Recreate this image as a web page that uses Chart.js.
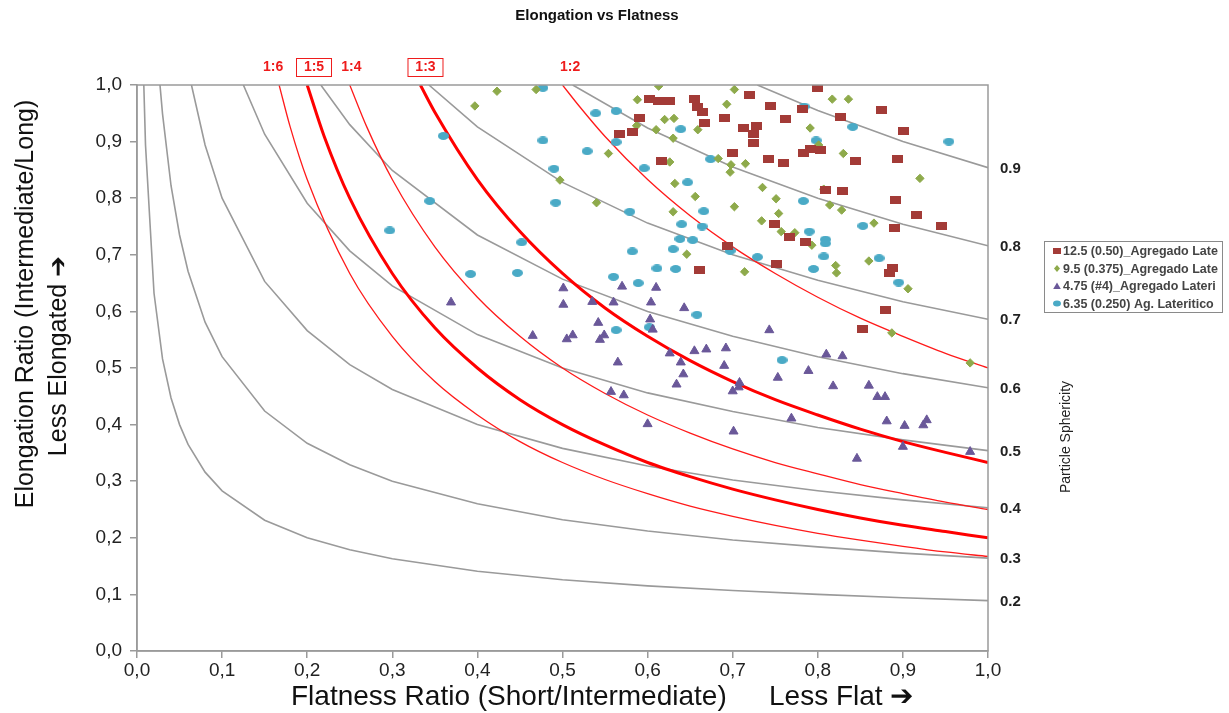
<!DOCTYPE html>
<html>
<head>
<meta charset="utf-8">
<title>Elongation vs Flatness</title>
<script src="https://cdn.jsdelivr.net/npm/chart.js@4.4.1/dist/chart.umd.min.js"></script>
<style>
  body { margin: 0; background: #fff; }
  canvas { display: block; }
</style>
</head>
<body>
<canvas id="zingg" width="1229" height="713"></canvas>
<script>
"use strict";

// ---- axis tick labels ----
var xTickLabels = ['0,0', '0,1', '0,2', '0,3', '0,4', '0,5', '0,6', '0,7', '0,8', '0,9', '1,0'];
var yTickLabels = ['0,0', '0,1', '0,2', '0,3', '0,4', '0,5', '0,6', '0,7', '0,8', '0,9', '1,0'];

// ---- sphericity curves (grey), [flatness, elongation] ----
var sph20 = [[0.008, 1], [0.01, 0.894], [0.02, 0.632], [0.03, 0.516], [0.04, 0.447], [0.05, 0.4], [0.06, 0.365], [0.08, 0.316], [0.1, 0.283], [0.15, 0.231], [0.2, 0.2], [0.25, 0.179], [0.3, 0.163], [0.4, 0.141], [0.5, 0.126], [0.6, 0.115], [0.7, 0.107], [0.8, 0.1], [0.9, 0.094], [1, 0.089]];
var sph30 = [[0.027, 1], [0.03, 0.949], [0.04, 0.822], [0.05, 0.735], [0.06, 0.671], [0.08, 0.581], [0.1, 0.52], [0.15, 0.424], [0.2, 0.367], [0.25, 0.329], [0.3, 0.3], [0.4, 0.26], [0.5, 0.232], [0.6, 0.212], [0.7, 0.196], [0.8, 0.184], [0.9, 0.173], [1, 0.164]];
var sph40 = [[0.064, 1], [0.08, 0.894], [0.1, 0.8], [0.15, 0.653], [0.2, 0.566], [0.25, 0.506], [0.3, 0.462], [0.4, 0.4], [0.5, 0.358], [0.6, 0.327], [0.7, 0.302], [0.8, 0.283], [0.9, 0.267], [1, 0.253]];
var sph50 = [[0.125, 1], [0.15, 0.913], [0.2, 0.791], [0.25, 0.707], [0.3, 0.645], [0.4, 0.559], [0.5, 0.5], [0.6, 0.456], [0.7, 0.423], [0.8, 0.395], [0.9, 0.373], [1, 0.354]];
var sph60 = [[0.216, 1], [0.25, 0.93], [0.3, 0.849], [0.4, 0.735], [0.5, 0.657], [0.6, 0.6], [0.7, 0.556], [0.8, 0.52], [0.9, 0.49], [1, 0.465]];
var sph70 = [[0.343, 1], [0.4, 0.926], [0.5, 0.828], [0.6, 0.756], [0.7, 0.7], [0.8, 0.655], [0.9, 0.617], [1, 0.586]];
var sph80 = [[0.512, 1], [0.6, 0.924], [0.7, 0.855], [0.8, 0.8], [0.9, 0.754], [1, 0.716]];
var sph90 = [[0.729, 1], [0.8, 0.955], [0.9, 0.9], [1, 0.854]];
var sphCurves = [sph20, sph30, sph40, sph50, sph60, sph70, sph80, sph90];
var sphLabels = ['0.2', '0.3', '0.4', '0.5', '0.6', '0.7', '0.8', '0.9'];

// ---- S:L ratio curves (red) ----
var ratio12 = [[0.5, 1], [0.52, 0.962], [0.55, 0.909], [0.6, 0.833], [0.65, 0.769], [0.7, 0.714], [0.75, 0.667], [0.8, 0.625], [0.85, 0.588], [0.9, 0.556], [0.95, 0.526], [1, 0.5]];
var ratio13 = [[0.333, 1], [0.35, 0.952], [0.4, 0.833], [0.45, 0.741], [0.5, 0.667], [0.55, 0.606], [0.6, 0.556], [0.65, 0.513], [0.7, 0.476], [0.75, 0.444], [0.8, 0.417], [0.85, 0.392], [0.9, 0.37], [0.95, 0.351], [1, 0.333]];
var ratio14 = [[0.25, 1], [0.27, 0.926], [0.3, 0.833], [0.35, 0.714], [0.4, 0.625], [0.45, 0.556], [0.5, 0.5], [0.55, 0.455], [0.6, 0.417], [0.65, 0.385], [0.7, 0.357], [0.75, 0.333], [0.8, 0.313], [0.85, 0.294], [0.9, 0.278], [0.95, 0.263], [1, 0.25]];
var ratio15 = [[0.2, 1], [0.22, 0.909], [0.25, 0.8], [0.3, 0.667], [0.35, 0.571], [0.4, 0.5], [0.45, 0.444], [0.5, 0.4], [0.55, 0.364], [0.6, 0.333], [0.65, 0.308], [0.7, 0.286], [0.75, 0.267], [0.8, 0.25], [0.85, 0.235], [0.9, 0.222], [0.95, 0.211], [1, 0.2]];
var ratio16 = [[0.167, 1], [0.18, 0.926], [0.2, 0.833], [0.25, 0.667], [0.3, 0.556], [0.35, 0.476], [0.4, 0.417], [0.45, 0.37], [0.5, 0.333], [0.55, 0.303], [0.6, 0.278], [0.65, 0.256], [0.7, 0.238], [0.75, 0.222], [0.8, 0.208], [0.85, 0.196], [0.9, 0.185], [0.95, 0.175], [1, 0.167]];
var ratioCurves = [ratio16, ratio15, ratio14, ratio13, ratio12];
var ratioLabels = ['1:6', '1:5', '1:4', '1:3', '1:2'];
var ratioLabelX = [0.16, 0.208, 0.252, 0.339, 0.509];
var ratioBold = [false, true, false, true, false];

// ---- measured particles ----
var seriesNames = ['12.5 (0.50)_Agregado Late', '9.5 (0.375)_Agregado Late', '4.75 (#4)_Agregado Lateri', '6.35 (0.250) Ag. Lateritico'];

var pass125 = [[0.800, 0.995], [0.655, 0.976], [0.659, 0.962], [0.664, 0.952], [0.602, 0.975], [0.613, 0.972], [0.626, 0.971], [0.720, 0.983], [0.745, 0.963], [0.690, 0.941], [0.667, 0.932], [0.590, 0.941], [0.567, 0.913], [0.582, 0.917], [0.616, 0.866], [0.782, 0.958], [0.827, 0.944], [0.875, 0.956], [0.762, 0.940], [0.713, 0.924], [0.728, 0.928], [0.724, 0.913], [0.725, 0.898], [0.901, 0.919], [0.700, 0.879], [0.742, 0.870], [0.760, 0.863], [0.783, 0.880], [0.791, 0.887], [0.803, 0.885], [0.844, 0.865], [0.894, 0.869], [0.809, 0.815], [0.829, 0.813], [0.891, 0.796], [0.916, 0.770], [0.945, 0.751], [0.890, 0.747], [0.749, 0.754], [0.767, 0.732], [0.785, 0.723], [0.694, 0.716], [0.751, 0.684], [0.661, 0.674], [0.888, 0.676], [0.884, 0.668], [0.879, 0.602], [0.853, 0.569]];

var pass95 = [[0.423, 0.989], [0.469, 0.992], [0.397, 0.963], [0.613, 0.998], [0.588, 0.974], [0.620, 0.939], [0.631, 0.941], [0.587, 0.928], [0.610, 0.921], [0.630, 0.906], [0.659, 0.921], [0.554, 0.879], [0.626, 0.864], [0.497, 0.832], [0.540, 0.792], [0.632, 0.826], [0.656, 0.803], [0.630, 0.776], [0.646, 0.701], [0.702, 0.992], [0.693, 0.966], [0.817, 0.975], [0.836, 0.975], [0.791, 0.924], [0.801, 0.894], [0.830, 0.879], [0.683, 0.870], [0.698, 0.859], [0.715, 0.861], [0.697, 0.846], [0.920, 0.835], [0.735, 0.819], [0.807, 0.816], [0.751, 0.799], [0.702, 0.785], [0.814, 0.788], [0.828, 0.779], [0.754, 0.773], [0.734, 0.760], [0.866, 0.756], [0.757, 0.741], [0.773, 0.739], [0.793, 0.717], [0.821, 0.681], [0.860, 0.689], [0.714, 0.670], [0.822, 0.668], [0.906, 0.640], [0.887, 0.562], [0.979, 0.509]];

var pass475 = [[0.369, 0.616], [0.501, 0.641], [0.501, 0.612], [0.535, 0.617], [0.560, 0.616], [0.570, 0.644], [0.610, 0.642], [0.604, 0.616], [0.643, 0.606], [0.542, 0.580], [0.603, 0.586], [0.606, 0.568], [0.465, 0.557], [0.505, 0.551], [0.512, 0.558], [0.549, 0.558], [0.544, 0.550], [0.626, 0.526], [0.655, 0.530], [0.639, 0.510], [0.565, 0.510], [0.642, 0.489], [0.634, 0.471], [0.557, 0.458], [0.572, 0.452], [0.600, 0.401], [0.743, 0.567], [0.669, 0.533], [0.692, 0.535], [0.690, 0.504], [0.810, 0.524], [0.829, 0.521], [0.789, 0.495], [0.753, 0.483], [0.708, 0.474], [0.707, 0.466], [0.700, 0.459], [0.818, 0.468], [0.860, 0.469], [0.870, 0.449], [0.879, 0.449], [0.769, 0.411], [0.881, 0.406], [0.902, 0.398], [0.928, 0.408], [0.924, 0.399], [0.701, 0.388], [0.900, 0.361], [0.979, 0.352], [0.846, 0.340]];

var pass635 = [[0.477, 0.995], [0.360, 0.910], [0.477, 0.902], [0.539, 0.950], [0.563, 0.954], [0.639, 0.922], [0.563, 0.899], [0.529, 0.883], [0.596, 0.853], [0.490, 0.852], [0.647, 0.828], [0.344, 0.795], [0.297, 0.743], [0.492, 0.792], [0.579, 0.776], [0.640, 0.754], [0.638, 0.728], [0.653, 0.726], [0.452, 0.722], [0.582, 0.706], [0.630, 0.710], [0.392, 0.666], [0.447, 0.668], [0.560, 0.661], [0.611, 0.676], [0.633, 0.675], [0.589, 0.650], [0.563, 0.567], [0.602, 0.572], [0.658, 0.594], [0.784, 0.962], [0.841, 0.926], [0.954, 0.900], [0.798, 0.902], [0.674, 0.869], [0.666, 0.777], [0.783, 0.795], [0.664, 0.750], [0.697, 0.707], [0.790, 0.741], [0.809, 0.727], [0.809, 0.720], [0.853, 0.751], [0.729, 0.696], [0.807, 0.697], [0.872, 0.694], [0.795, 0.675], [0.895, 0.651], [0.758, 0.514]];

var seriesData = [pass125, pass95, pass475, pass635];
var seriesColors = ['#a33b37', '#8eaa4b', '#6a5899', '#4aaac6'];

// ---- helpers ----
function toXY(list) {
    return list.map(function(p) { return {x: p[0], y: p[1]}; });
}

function boxMark(w, h, color) {
    var c = document.createElement('canvas');
    c.width = w; c.height = h;
    var g = c.getContext('2d');
    g.fillStyle = color;
    g.fillRect(0, 0, w, h);
    return c;
}

function ovalMark(w, h, color) {
    var c = document.createElement('canvas');
    c.width = w; c.height = h;
    var g = c.getContext('2d');
    g.fillStyle = color;
    g.beginPath();
    g.ellipse(w / 2, h / 2, w / 2, h / 2, 0, 0, Math.PI * 2);
    g.fill();
    return c;
}

var FONT = 'Arial, "Liberation Sans", sans-serif';

// ---- datasets ----
var datasets = [];

datasets.push({
    label: seriesNames[0], data: toXY(pass125), showLine: false, order: 0,
    pointStyle: boxMark(11, 8, seriesColors[0]), pointRadius: 5, pointHoverRadius: 5,
    backgroundColor: seriesColors[0], borderColor: seriesColors[0]
});
datasets.push({
    label: seriesNames[1], data: toXY(pass95), showLine: false, order: 0,
    pointStyle: 'rectRot', pointRadius: 4.2, pointHoverRadius: 4.2, borderWidth: 1,
    backgroundColor: seriesColors[1], borderColor: seriesColors[1]
});
datasets.push({
    label: seriesNames[2], data: toXY(pass475), showLine: false, order: 0,
    pointStyle: 'triangle', pointRadius: 5.2, pointHoverRadius: 5.2, borderWidth: 1,
    backgroundColor: seriesColors[2], borderColor: seriesColors[2]
});
datasets.push({
    label: seriesNames[3], data: toXY(pass635), showLine: false, order: 0,
    pointStyle: ovalMark(11, 8, seriesColors[3]), pointRadius: 5, pointHoverRadius: 5,
    backgroundColor: seriesColors[3], borderColor: seriesColors[3]
});

sphCurves.forEach(function(curve, i) {
    datasets.push({
        label: 'sph ' + sphLabels[i], data: toXY(curve), showLine: true, order: 2,
        borderColor: '#9a9a9a', borderWidth: 1.6, pointRadius: 0, tension: 0, fill: false
    });
});

ratioCurves.forEach(function(curve, i) {
    datasets.push({
        label: ratioLabels[i], data: toXY(curve), showLine: true, order: 1,
        borderColor: ratioBold[i] ? '#ff0000' : '#ff1a1a', borderWidth: ratioBold[i] ? 3 : 1.3,
        pointRadius: 0, cubicInterpolationMode: 'monotone', fill: false
    });
});

// ---- extra drawing: titles, labels, frame, legend ----
var decorPlugin = {
    id: 'decor',
    afterDraw: function(chart) {
        var ctx = chart.ctx;
        var xs = chart.scales.x, ys = chart.scales.y, a = chart.chartArea;
        ctx.save();

        // plot frame
        ctx.strokeStyle = '#9a9a9a';
        ctx.lineWidth = 1.5;
        ctx.strokeRect(a.left, a.top, a.right - a.left, a.bottom - a.top);

        // chart title
        ctx.fillStyle = '#111';
        ctx.font = 'bold 15px ' + FONT;
        ctx.textAlign = 'center';
        ctx.textBaseline = 'middle';
        ctx.fillText('Elongation vs Flatness', 597, 16);

        // x axis title
        ctx.font = '28px ' + FONT;
        ctx.textAlign = 'left';
        ctx.fillStyle = '#111';
        ctx.fillText('Flatness Ratio (Short/Intermediate)', 291, 697);
        ctx.fillText('Less Flat \u2794', 769, 697);

        // y axis title (two rotated lines)
        ctx.save();
        ctx.translate(26, 304);
        ctx.rotate(-Math.PI / 2);
        ctx.font = '25px ' + FONT;
        ctx.textAlign = 'center';
        ctx.fillText('Elongation Ratio (Intermediate/Long)', 0, 0);
        ctx.restore();
        ctx.save();
        ctx.translate(59, 356);
        ctx.rotate(-Math.PI / 2);
        ctx.font = '25px ' + FONT;
        ctx.textAlign = 'center';
        ctx.fillText('Less Elongated \u2794', 0, 0);
        ctx.restore();

        // ratio labels on top
        ctx.font = 'bold 14px ' + FONT;
        ctx.textAlign = 'center';
        ctx.fillStyle = '#ee1c1c';
        ratioLabels.forEach(function(txt, i) {
            var px = xs.getPixelForValue(ratioLabelX[i]);
            ctx.fillText(txt, px, 67);
            if (ratioBold[i]) {
                ctx.strokeStyle = '#ee1c1c';
                ctx.lineWidth = 1;
                ctx.strokeRect(px - 17.5, 58.5, 35, 18);
            }
        });

        // sphericity labels at right ends
        ctx.font = 'bold 15px ' + FONT;
        ctx.textAlign = 'left';
        ctx.fillStyle = '#222';
        sphCurves.forEach(function(curve, i) {
            var last = curve[curve.length - 1];
            ctx.fillText(sphLabels[i], 1000, ys.getPixelForValue(last[1]) + 1);
        });

        // Particle Sphericity
        ctx.save();
        ctx.translate(1066, 437);
        ctx.rotate(-Math.PI / 2);
        ctx.font = '14px "Liberation Sans Narrow", ' + FONT;
        ctx.textAlign = 'center';
        ctx.fillStyle = '#222';
        ctx.fillText('Particle Sphericity', 0, 0);
        ctx.restore();

        // legend
        ctx.strokeStyle = '#8a8a8a';
        ctx.lineWidth = 1;
        ctx.strokeRect(1044.5, 241.5, 178, 71);
        ctx.font = 'bold 12.5px ' + FONT;
        ctx.textAlign = 'left';
        seriesNames.forEach(function(name, i) {
            var ly = 251 + i * 17.5;
            var mx = 1057;
            ctx.fillStyle = seriesColors[i];
            ctx.beginPath();
            if (i === 0) {
                ctx.rect(mx - 4, ly - 3, 8, 6);
            } else if (i === 1) {
                ctx.moveTo(mx, ly - 3.5); ctx.lineTo(mx + 3, ly); ctx.lineTo(mx, ly + 3.5); ctx.lineTo(mx - 3, ly);
            } else if (i === 2) {
                ctx.moveTo(mx, ly - 3.5); ctx.lineTo(mx + 3.8, ly + 3); ctx.lineTo(mx - 3.8, ly + 3);
            } else {
                ctx.ellipse(mx, ly, 4, 3, 0, 0, Math.PI * 2);
            }
            ctx.closePath();
            ctx.fill();
            ctx.fillStyle = '#444';
            ctx.fillText(name, 1063, ly + 1);
        });

        ctx.restore();
    }
};

var ctxEl = document.getElementById('zingg').getContext('2d');
var zinggChart = new Chart(ctxEl, {
    type: 'scatter',
    data: { datasets: datasets },
    options: {
        responsive: false,
        animation: false,
        devicePixelRatio: 1,
        layout: { padding: { left: 0, top: 85, right: 241, bottom: 0 } },
        plugins: {
            legend: { display: false },
            tooltip: { enabled: false },
            title: { display: false }
        },
        scales: {
            x: {
                type: 'linear', min: 0, max: 1,
                afterFit: function(s) { s.height = 62; },
                border: { color: '#9a9a9a', width: 1.5 },
                grid: { drawOnChartArea: false, drawTicks: true, tickLength: 7, color: '#9a9a9a', lineWidth: 1.5 },
                ticks: {
                    stepSize: 0.1, autoSkip: false, maxRotation: 0, padding: 1,
                    color: '#222', font: { family: FONT, size: 19 },
                    callback: function(v, i) { return xTickLabels[i]; }
                }
            },
            y: {
                type: 'linear', min: 0, max: 1,
                afterFit: function(s) { s.width = 137; },
                border: { color: '#9a9a9a', width: 1.5 },
                grid: { drawOnChartArea: false, drawTicks: true, tickLength: 7, color: '#9a9a9a', lineWidth: 1.5 },
                ticks: {
                    stepSize: 0.1, autoSkip: false, padding: 8,
                    color: '#222', font: { family: FONT, size: 19 },
                    callback: function(v, i) { return yTickLabels[i]; }
                }
            }
        }
    },
    plugins: [decorPlugin]
});
</script>
</body>
</html>
